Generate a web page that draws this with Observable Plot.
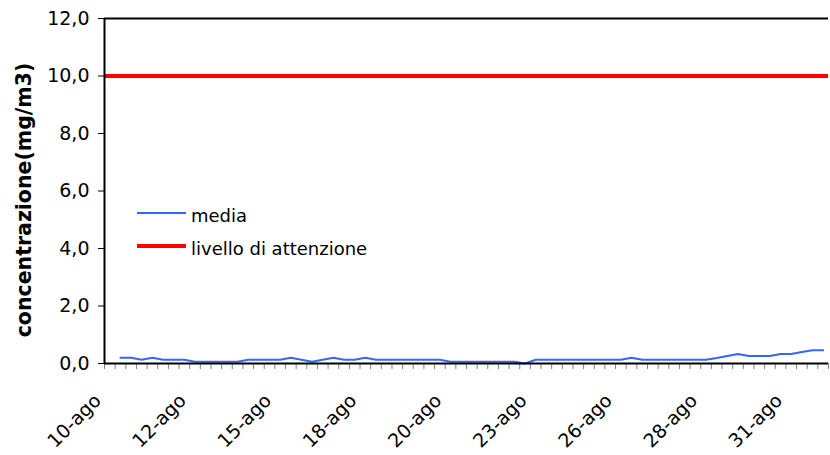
<!DOCTYPE html>
<html><head><meta charset="utf-8">
<script src="https://cdn.jsdelivr.net/npm/d3@7"></script>
<script src="https://cdn.jsdelivr.net/npm/@observablehq/plot@0.6"></script>
<style>
body{margin:0;background:#fff;font-family:"DejaVu Sans",sans-serif;}
#wrap{position:relative;width:830px;height:455px;}
.legend{position:absolute;left:137px;top:0;font-size:18px;color:#000;}
.row{position:absolute;left:0;display:flex;align-items:center;white-space:nowrap;height:30px;}
.sw{width:49px;margin-right:5px;}
.lt{position:relative;top:2px;}
</style></head><body><div id="wrap"></div>
<script>
// 8-hour averages, 10-ago ... (3 per day); first slot empty
const media = [null,
  0.2,0.2,0.13,0.2,0.13,0.13,0.13,
  0.06,0.06,0.06,0.06,0.06,
  0.13,0.13,0.13,0.13,
  0.2,0.13,0.06,0.13,0.2,0.13,0.13,0.2,
  0.13,0.13,0.13,0.13,0.13,0.13,0.13,
  0.06,0.06,0.06,0.06,0.06,0.06,0.06,
  0.0,
  0.13,0.13,0.13,0.13,0.13,0.13,0.13,0.13,0.13,
  0.2,
  0.13,0.13,0.13,0.13,0.13,0.13,0.13,
  0.19,0.26,0.33,0.26,0.26,0.26,0.33,0.33,0.40,0.46,0.46];
const livello = 10;
const tickLabels = ["10-ago","12-ago","15-ago","18-ago","20-ago","23-ago","26-ago","28-ago","31-ago"];
const tickIndex = [0,8,16,24,32,40,48,56,64];
const yTicks = [0,2,4,6,8,10,12];
const yTitle = "concentrazione(mg/m3)";
const seriesNames = ["media","livello di attenzione"];
const seriesColors = ["#3366ff","#ff0000"];

const data = media.map((v,i)=>({i, v})).filter(d=>d.v!=null);

const plot = Plot.plot({
  width:830, height:455, marginLeft:104, marginRight:2, marginTop:18, marginBottom:92,
  style:{fontFamily:"DejaVu Sans", fontSize:"19px", color:"#000", background:"#fff"},
  x:{domain:[0, media.length], axis:null},
  y:{domain:[0,12], axis:null},
  marks:[
    Plot.axisY({ticks:yTicks, tickFormat:d=>d.toFixed(1).replace(".",","), tickSize:6, tickPadding:9, fontSize:19, label:null, stroke:"#000"}),
    Plot.axisX({ticks:d3.range(0, media.length+1), tickSize:6, tickFormat:()=>"", label:null, stroke:"#808080"}),
    Plot.text(tickIndex, {x:i=>i+0.5, text:(d,k)=>tickLabels[k], frameAnchor:"bottom", rotate:-45, textAnchor:"end", lineAnchor:"middle", dx:-12, dy:34, fontSize:19}),
    Plot.ruleY([livello], {stroke:seriesColors[1], strokeWidth:4}),
    Plot.line(data, {x:d=>d.i+0.5, y:"v", stroke:seriesColors[0], strokeWidth:2}),
    Plot.ruleX([0], {stroke:"#000", strokeWidth:2}),
    Plot.ruleY([0], {stroke:"#000", strokeWidth:2}),
    Plot.ruleY([12], {stroke:"#000", strokeWidth:2}),
    Plot.text([yTitle], {frameAnchor:"left", textAnchor:"middle", lineAnchor:"middle", rotate:-90, dx:-80, dy:9, fontWeight:"bold", fontSize:20.5})
  ]
});
const wrap = document.getElementById("wrap");
wrap.appendChild(plot);
const lg = document.createElement("div");
lg.className = "legend";
const tops = [198, 231];
const widths = [2, 4];
seriesNames.forEach((n,k)=>{
  const r = document.createElement("div");
  r.className = "row";
  r.style.top = tops[k] + "px";
  r.innerHTML = `<span class="sw" style="border-top:${widths[k]}px solid ${seriesColors[k]}"></span><span class="lt">${n}</span>`;
  lg.appendChild(r);
});
wrap.appendChild(lg);
</script></body></html>
